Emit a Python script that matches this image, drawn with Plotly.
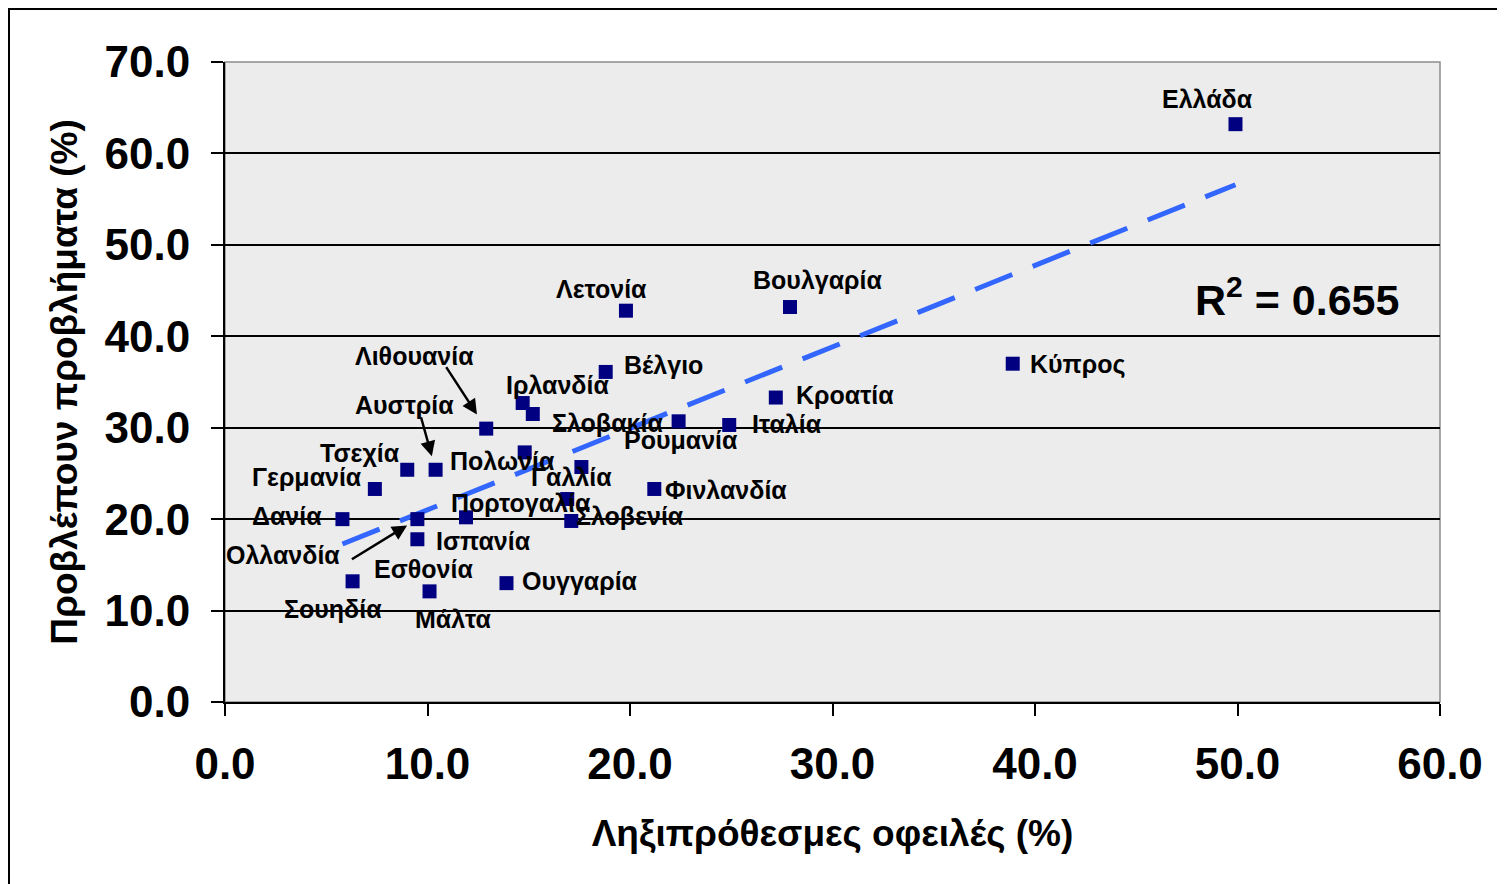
import numpy as np
import plotly.graph_objects as go

# ---- data ----
countries = ["Ελλάδα", "Βουλγαρία", "Λετονία", "Κύπρος", "Βέλγιο", "Κροατία",
             "Ιρλανδία", "Σλοβακία", "Ρουμανία", "Ιταλία", "Λιθουανία", "Πολωνία",
             "Τσεχία", "Αυστρία", "Γαλλία", "Γερμανία", "Φινλανδία", "Πορτογαλία",
             "Δανία", "Ολλανδία", "Εσθονία", "Σλοβενία", "Ισπανία", "Σουηδία",
             "Μάλτα", "Ουγγαρία"]
arrears = [49.9, 27.9, 19.8, 38.9, 18.8, 27.2,
           14.7, 15.2, 22.4, 24.9, 12.9, 14.8,
           9.0, 10.4, 17.6, 7.4, 21.2, 16.9,
           5.8, 9.5, 11.9, 17.1, 9.5, 6.3,
           10.1, 13.9]
problems = [63.2, 43.2, 42.8, 37.0, 36.1, 33.3,
            32.7, 31.5, 30.7, 30.3, 29.9, 27.3,
            25.4, 25.4, 25.7, 23.3, 23.3, 22.2,
            20.0, 20.0, 20.2, 19.8, 17.8, 13.2,
            12.1, 13.0]
x_ticks = [0, 10, 20, 30, 40, 50, 60]
y_ticks = [0, 10, 20, 30, 40, 50, 60, 70]
x_title = "Ληξιπρόθεσμες οφειλές (%)"
y_title = "Προβλέπουν προβλήματα (%)"
r2_text = "R<sup>2</sup> = 0.655"

# ---- label placement (pixel offsets from marker) ----
label_offsets = {
    "Ελλάδα": (-28, -25), "Βουλγαρία": (28, -27), "Λετονία": (-24, -22),
    "Κύπρος": (65, 1), "Βέλγιο": (58, -7), "Κροατία": (69, -3),
    "Ιρλανδία": (35, -18), "Σλοβακία": (75, 9), "Ρουμανία": (2, 19),
    "Ιταλία": (58, -1), "Λιθουανία": (-72, -73), "Πολωνία": (-22, 9),
    "Τσεχία": (-47, -17), "Αυστρία": (-31, -65), "Γαλλία": (-10, 10),
    "Γερμανία": (-68, -12), "Φινλανδία": (72, 1), "Πορτογαλία": (-46, 4),
    "Δανία": (-55, -3), "Ολλανδία": (-134, 36), "Εσθονία": (-42, 52),
    "Σλοβενία": (59, -5), "Ισπανία": (66, 2), "Σουηδία": (-20, 28),
    "Μάλτα": (24, 28), "Ουγγαρία": (74, -2),
}
# arrows: (tail offset x, tail offset y, standoff)
arrows = {
    "Λιθουανία": (-41, -63, 17),
    "Αυστρία": (-15, -54, 14),
    "Ολλανδία": (-67, 41, 12),
}

FONT = "Liberation Sans, Arial, sans-serif"
PAGE_OFF = 8  # default body margin of the html page
W, H = 1505, 884
L, T = 225 - PAGE_OFF, 62 - PAGE_OFF
PW, PH = 1215, 640
R, B = W - L - PW, H - T - PH

fig = go.Figure()

# trend line (least squares)
xa = np.array(arrears)
ya = np.array(problems)
slope, intercept = np.polyfit(xa, ya, 1)
xl = np.array([xa.min(), xa.max()])
fig.add_trace(go.Scatter(
    x=xl, y=slope * xl + intercept, mode="lines",
    line=dict(color="#3366FF", width=5, dash="40px,22px"),
    hoverinfo="skip", showlegend=False))

fig.add_trace(go.Scatter(
    x=arrears, y=problems, mode="markers", text=countries,
    marker=dict(symbol="square", size=14, color="#000080"),
    showlegend=False))

annotations = []
for c, xv, yv in zip(countries, arrears, problems):
    dx, dy = label_offsets[c]
    annotations.append(dict(
        x=xv, y=yv, xref="x", yref="y", text=c, showarrow=False,
        xshift=dx, yshift=-dy,
        font=dict(family=FONT, size=25, color="black", weight="bold")))
    if c in arrows:
        axo, ayo, so = arrows[c]
        annotations.append(dict(
            x=xv, y=yv, xref="x", yref="y", text="", showarrow=True,
            ax=axo, ay=ayo, arrowhead=2, arrowsize=1.2, arrowwidth=2.5,
            arrowcolor="black", standoff=so))

annotations.append(dict(
    x=(1297 - 225) / PW, y=(702 - 297) / PH, xref="paper", yref="paper",
    xanchor="center", yanchor="middle",
    text=r2_text, showarrow=False,
    font=dict(family=FONT, size=43, color="black", weight="bold")))

fig.update_layout(
    width=W, height=H,
    margin=dict(l=L, r=R, t=T, b=B),
    paper_bgcolor="white",
    plot_bgcolor="#ececec",
    annotations=annotations,
    font=dict(family=FONT, color="black"),
    shapes=[
        dict(type="rect", xref="paper", yref="paper",
             x0=(0 - L + 1) / PW, x1=(W + 20 - L) / PW,
             y0=(PH + T - H - 20) / PH, y1=(PH + T - 1) / PH,
             line=dict(color="black", width=2), layer="below"),
        dict(type="rect", xref="paper", yref="paper", x0=0, x1=1, y0=0, y1=1,
             line=dict(color="#8c8c8c", width=1.5), layer="below"),
    ],
)

fig.update_xaxes(
    range=[0, 60], tickvals=x_ticks, ticktext=[f"{v:.1f}" for v in x_ticks],
    showgrid=False, zeroline=False, automargin=False,
    showline=True, linecolor="black", linewidth=2,
    ticks="outside", ticklen=12, tickwidth=2, tickcolor="black",
    tickfont=dict(family=FONT, size=44, color="black", weight="bold"),
    ticklabelstandoff=10,
    title=dict(text=x_title, font=dict(family=FONT, size=37, color="black", weight="bold"),
               standoff=33),
)
fig.update_yaxes(
    range=[0, 70], tickvals=y_ticks, ticktext=[f"{v:.1f}" for v in y_ticks],
    showgrid=True, gridcolor="black", gridwidth=2, zeroline=False, automargin=False,
    showline=True, linecolor="black", linewidth=2,
    ticks="outside", ticklen=12, tickwidth=2, tickcolor="black",
    tickfont=dict(family=FONT, size=44, color="black", weight="bold"),
    ticklabelstandoff=12,
    title=dict(text=y_title, font=dict(family=FONT, size=37, color="black", weight="bold"),
               standoff=16),
)

fig.write_html("out.html")
